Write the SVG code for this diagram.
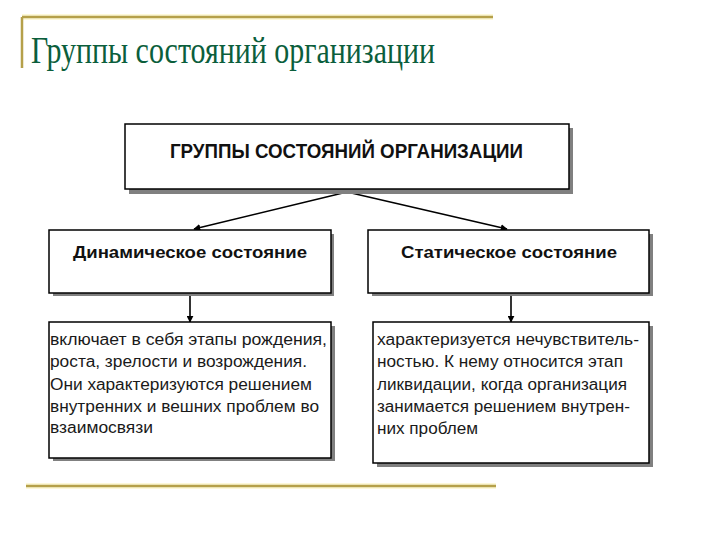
<svg xmlns="http://www.w3.org/2000/svg" width="720" height="540" viewBox="0 0 720 540">
  <style>
    .gold { stroke: #b5a04a; stroke-width: 2.5; fill: none; }
    .glow { stroke: #fdf8d8; stroke-width: 6; fill: none; }
    .title { font-family: "Liberation Serif", "Times New Roman", serif; font-size: 38px; fill: #0b5e3c; }
    .box { fill: #ffffff; stroke: #000000; stroke-width: 1.5; }
    .shadow { fill: #808080; }
    .head { font-family: "Liberation Sans", Arial, sans-serif; font-weight: bold; fill: #111111; }
    .body { font-family: "Liberation Sans", Arial, sans-serif; font-size: 16px; fill: #1a1a1a; }
    .conn { stroke: #000000; stroke-width: 1.6; fill: none; }
  </style>
  <defs>
    <marker id="arr" viewBox="0 0 10 10" refX="9" refY="5" markerWidth="7" markerHeight="7" markerUnits="userSpaceOnUse" orient="auto">
      <path d="M0,0 L10,5 L0,10 z" fill="#000000"/>
    </marker>
  </defs>
  <rect x="0" y="0" width="720" height="540" fill="#ffffff"/>

  <!-- decorative slide lines -->
  <g id="decor">
    <path class="glow" d="M22,17 H493"/>
    <path class="gold" d="M22,17 H493 M22,17 V68"/>
    <path class="glow" d="M26,486 H496"/>
    <path class="gold" d="M26,486 H496"/>
  </g>

  <text class="title" x="31" y="63" textLength="404" lengthAdjust="spacingAndGlyphs">Группы состояний организации</text>

  <g id="connectors">
    <path class="conn" d="M347,192 L194,229" marker-end="url(#arr)"/>
    <path class="conn" d="M347,192 L507,229" marker-end="url(#arr)"/>
    <path class="conn" d="M190,295 L190,322" marker-end="url(#arr)"/>
    <path class="conn" d="M511,295 L511,322" marker-end="url(#arr)"/>
  </g>

  <g id="node-root">
    <rect class="shadow" x="129" y="128" width="444" height="66"/>
    <rect class="box" x="125" y="124" width="444" height="65"/>
    <text class="head" x="170" y="158" font-size="21" textLength="353" lengthAdjust="spacingAndGlyphs">ГРУППЫ СОСТОЯНИЙ ОРГАНИЗАЦИИ</text>
  </g>

  <g id="node-dynamic">
    <rect class="shadow" x="53" y="234" width="281" height="62"/>
    <rect class="box" x="49" y="230" width="282" height="63"/>
    <text class="head" x="73" y="258" font-size="17" textLength="234" lengthAdjust="spacingAndGlyphs">Динамическое состояние</text>
  </g>

  <g id="node-static">
    <rect class="shadow" x="372" y="234" width="281" height="62"/>
    <rect class="box" x="368" y="230" width="281" height="63"/>
    <text class="head" x="401" y="258" font-size="17" textLength="216" lengthAdjust="spacingAndGlyphs">Статическое состояние</text>
  </g>

  <g id="node-dynamic-desc">
    <rect class="shadow" x="53" y="326" width="282" height="135"/>
    <rect class="box" x="49" y="322" width="282" height="136"/>
    <text class="body" x="50" y="345" textLength="277" lengthAdjust="spacingAndGlyphs">включает в себя этапы рождения,</text>
    <text class="body" x="50" y="367" textLength="257" lengthAdjust="spacingAndGlyphs">роста, зрелости и возрождения.</text>
    <text class="body" x="50" y="390" textLength="262" lengthAdjust="spacingAndGlyphs">Они характеризуются решением</text>
    <text class="body" x="50" y="412" textLength="269" lengthAdjust="spacingAndGlyphs">внутренних и вешних проблем во</text>
    <text class="body" x="50" y="433" textLength="103" lengthAdjust="spacingAndGlyphs">взаимосвязи</text>
  </g>

  <g id="node-static-desc">
    <rect class="shadow" x="377" y="326" width="276" height="141"/>
    <rect class="box" x="373" y="322" width="276" height="141"/>
    <text class="body" x="377" y="345" textLength="262" lengthAdjust="spacingAndGlyphs">характеризуется нечувствитель-</text>
    <text class="body" x="377" y="367" textLength="246" lengthAdjust="spacingAndGlyphs">ностью. К нему относится этап</text>
    <text class="body" x="377" y="390" textLength="250" lengthAdjust="spacingAndGlyphs">ликвидации, когда организация</text>
    <text class="body" x="377" y="412" textLength="253" lengthAdjust="spacingAndGlyphs">занимается решением внутрен-</text>
    <text class="body" x="377" y="434" textLength="101" lengthAdjust="spacingAndGlyphs">них проблем</text>
  </g>
</svg>
